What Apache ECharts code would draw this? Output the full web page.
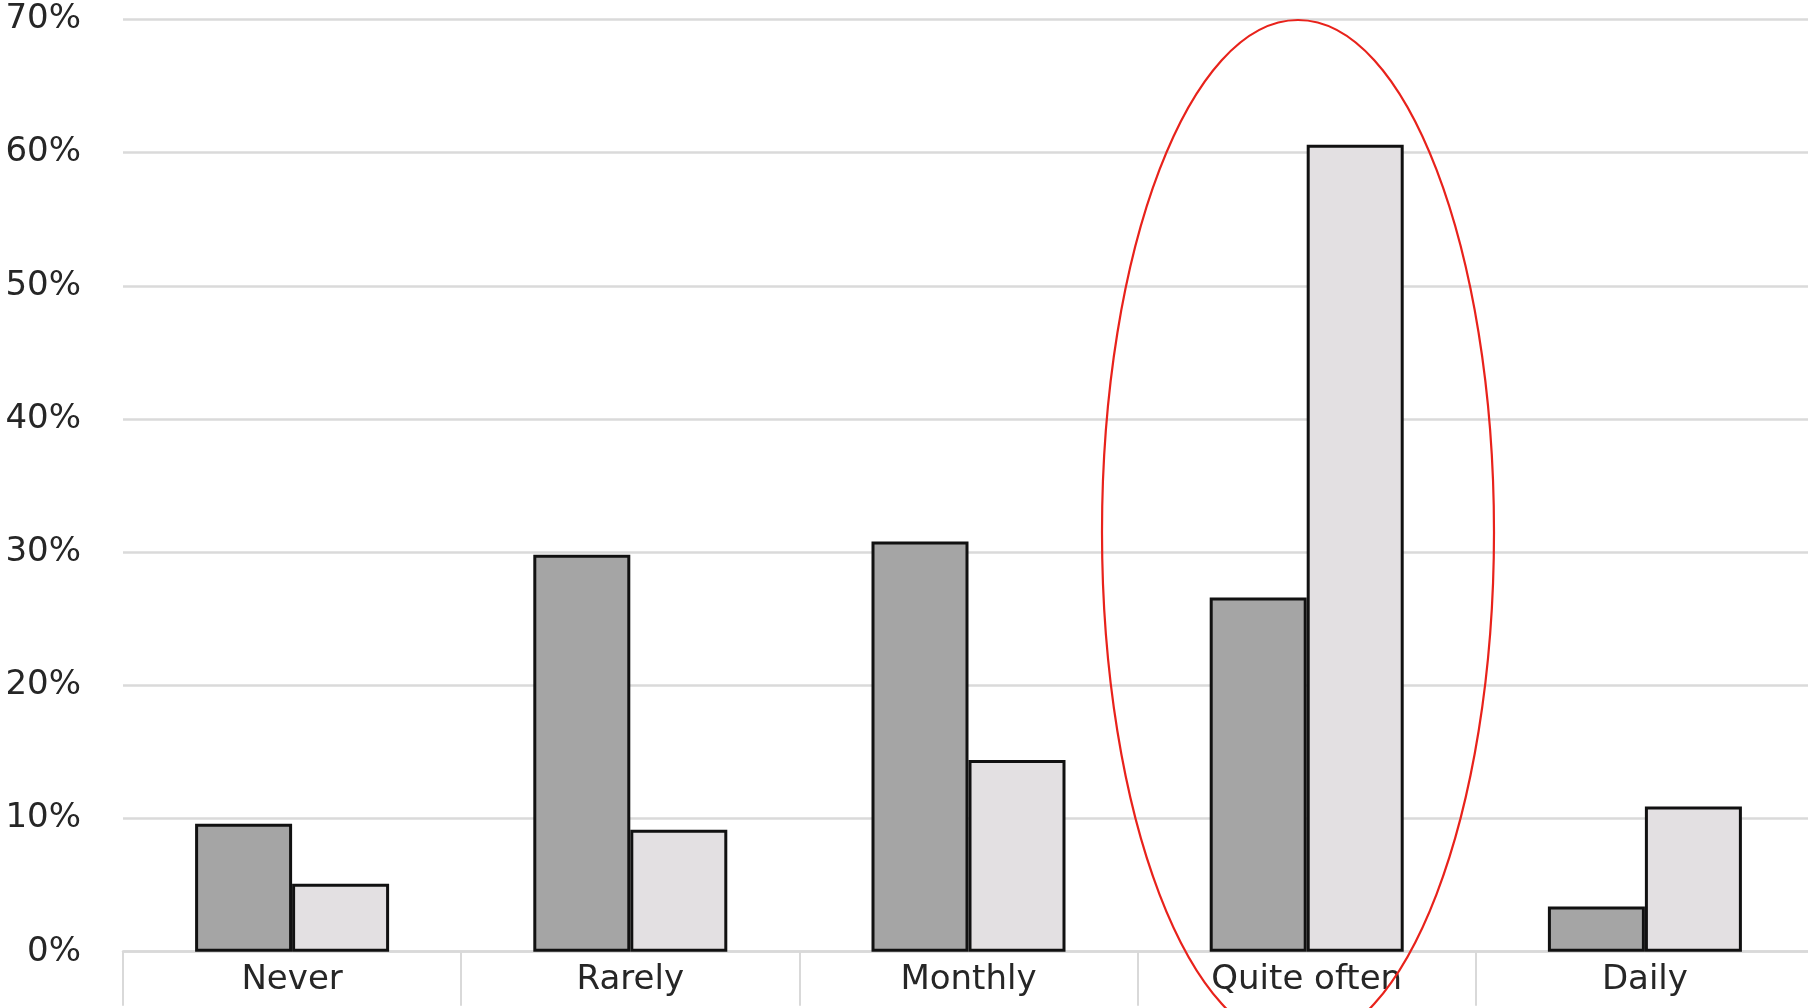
<!DOCTYPE html>
<html>
<head>
<meta charset="utf-8">
<script src="https://cdn.jsdelivr.net/npm/echarts@6/dist/echarts.min.js"></script>
<style>
html,body{margin:0;padding:0;background:#fff;overflow:hidden;}
#chart{width:1814px;height:1008px;}
</style>
</head>
<body>
<div id="chart"></div>
<script>
const categories = ['Never', 'Rarely', 'Monthly', 'Quite often', 'Daily'];
const seriesDark = [9.6, 29.8, 30.8, 26.6, 3.4];
const seriesLight = [5.1, 9.15, 14.4, 60.6, 10.9];
const yTicks = [0, 10, 20, 30, 40, 50, 60, 70];

const chart = echarts.init(document.getElementById('chart'), null, {renderer: 'canvas'});
const font = 'DejaVu Sans';
const barBorder = {borderColor: '#111', borderWidth: 3};

chart.setOption({
  animation: false,
  backgroundColor: '#ffffff',
  grid: {left: 123, top: 19.5, right: 0, bottom: 56.3, containLabel: false},
  xAxis: {
    type: 'category',
    data: categories,
    boundaryGap: true,
    axisLine: {show: true, lineStyle: {color: '#d9d9d9', width: 2.5}},
    axisTick: {show: true, interval: 0, length: 54, lineStyle: {color: '#d9d9d9', width: 2}},
    axisLabel: {interval: 0, margin: 11, fontFamily: font, fontSize: 34, color: '#262626'},
    splitLine: {show: false}
  },
  yAxis: {
    type: 'value',
    min: yTicks[0],
    max: yTicks[yTicks.length - 1],
    interval: 10,
    axisLine: {show: false},
    axisTick: {show: false},
    axisLabel: {margin: 42, fontFamily: font, fontSize: 34, color: '#262626', formatter: v => v + '%'},
    splitLine: {show: true, lineStyle: {color: '#dadada', width: 2.5}}
  },
  series: [
    {
      type: 'bar',
      data: seriesDark,
      barGap: '0%',
      barWidth: 97,
      itemStyle: Object.assign({color: '#a5a5a5'}, barBorder)
    },
    {
      type: 'bar',
      data: seriesLight,
      barGap: '0%',
      barWidth: 97,
      itemStyle: Object.assign({color: '#e3e0e2'}, barBorder)
    }
  ],
  graphic: [
    {
      type: 'ellipse',
      shape: {cx: 1298, cy: 532, rx: 196, ry: 512},
      style: {fill: 'none', stroke: '#e8221b', lineWidth: 2.2},
      z: 100
    }
  ]
});
</script>
</body>
</html>
